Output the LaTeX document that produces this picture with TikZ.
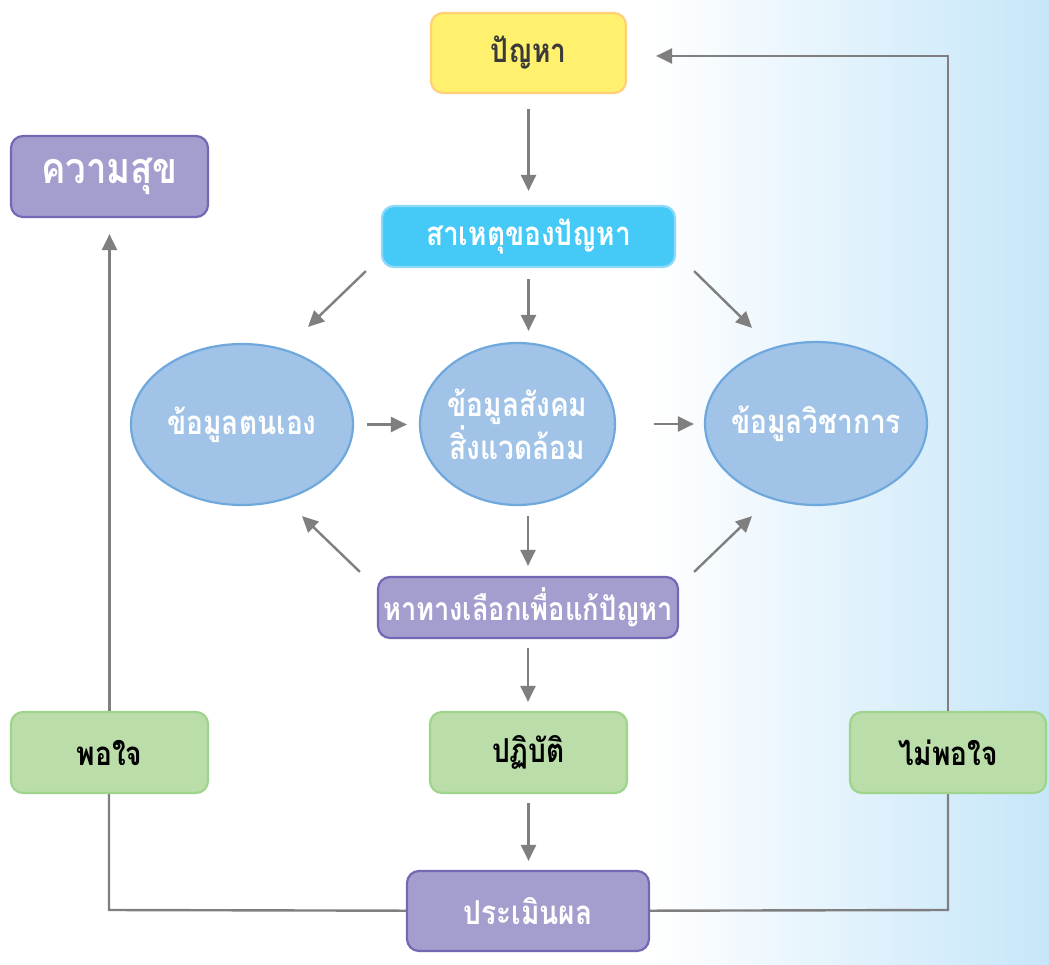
\documentclass[tikz,border=0pt]{standalone}
\usepackage{fontspec}
\newfontfamily\thaifont[Script=Thai,FakeStretch=0.85]{Loma}
\usetikzlibrary{arrows.meta,shapes.geometric,calc}
\definecolor{arrgray}{RGB}{127,127,127}
\definecolor{bgblue}{RGB}{198,230,249}
\definecolor{yfill}{RGB}{255,241,110}
\definecolor{ydraw}{RGB}{255,208,120}
\definecolor{cfill}{RGB}{69,201,246}
\definecolor{cdraw}{RGB}{141,217,247}
\definecolor{pfill}{RGB}{164,158,207}
\definecolor{pdraw}{RGB}{115,104,180}
\definecolor{efill}{RGB}{160,195,231}
\definecolor{edraw}{RGB}{111,168,220}
\definecolor{gfill}{RGB}{187,221,170}
\definecolor{gdraw}{RGB}{158,212,140}
\definecolor{dtext}{RGB}{58,58,58}
\begin{document}
\begin{tikzpicture}[x=1pt,y=-1pt,
  box/.style={rectangle, rounded corners=12pt, line width=2.2pt, inner xsep=-30pt, inner ysep=0pt, align=center, font=\thaifont\bfseries\fontsize{33}{38}\selectfont},
  yellowbox/.style={box, fill=yfill, draw=ydraw, text=dtext},
  cyanbox/.style={box, fill=cfill, draw=cdraw, text=white},
  purplebox/.style={box, fill=pfill, draw=pdraw, text=white},
  greenbox/.style={box, fill=gfill, draw=gdraw, text=black},
  ell/.style={ellipse, fill=efill, draw=edraw, line width=2.2pt, inner xsep=-50pt, inner ysep=-20pt, align=center, text=white, font=\thaifont\bfseries\fontsize{33}{42}\selectfont},
  arr/.style={draw=arrgray, line width=2.4pt, -{Triangle[length=16pt,width=15pt]}},
  ln/.style={draw=arrgray, line width=2.4pt}
]
\useasboundingbox (0,0) rectangle (1049,965);
\fill[white] (0,0) rectangle (1049,965);
\shade[left color=white, right color=bgblue] (650,0) rectangle (1049,965);

\coordinate (vl) at (109,910);
\coordinate (vr) at (948,910);

\node[yellowbox, minimum width=195pt, minimum height=80pt] (p) at (528.5,53) {ปัญหา};
\node[cyanbox, minimum width=293pt, minimum height=61pt] (c) at (528.5,236.5) {สาเหตุของปัญหา};
\node[purplebox, minimum width=197pt, minimum height=81pt, font=\thaifont\bfseries\fontsize{43}{48}\selectfont] (h) at (109.5,176.5) {ความสุข};
\node[ell, minimum width=222pt, minimum height=161pt] (e1) at (242,424.5) {ข้อมูลตนเอง};
\node[ell, minimum width=195pt, minimum height=162pt] (e2) at (517.5,424) {ข้อมูลสังคม\\สิ่งแวดล้อม};
\node[ell, minimum width=222pt, minimum height=163pt] (e3) at (816,423.5) {ข้อมูลวิชาการ};
\node[purplebox, minimum width=300pt, minimum height=61pt, font=\thaifont\bfseries\fontsize{32}{38}\selectfont] (a) at (528,607.5) {หาทางเลือกเพื่อแก้ปัญหา};
\node[greenbox, minimum width=197pt, minimum height=81pt] (d) at (528.5,752.5) {ปฏิบัติ};

% loop lines (drawn before the boxes they pass under)
\draw[ln] (528,911) -- (vl) -- (109,752);
\draw[ln] (528,911) -- (vr) -- (948,752);

\node[greenbox, minimum width=197pt, minimum height=81pt] (s) at (109.5,752.5) {พอใจ};
\node[greenbox, minimum width=196pt, minimum height=81pt] (n) at (948,752.5) {ไม่พอใจ};
\node[purplebox, minimum width=242pt, minimum height=80pt] (v) at (528,911) {ประเมินผล};

% arrows
\draw[arr, shorten <=15pt, shorten >=14pt] (p.south) -- (p.south |- c.north);
\draw[arr] ([shift={(-15,3)}]c.south west) -- ([shift={(66,-16)}]e1.north);
\draw[arr, shorten <=11pt, shorten >=11pt] (c.south) -- (c.south |- e2.north);
\draw[arr] ([shift={(18,3)}]c.south east) -- ([shift={(-64,-13)}]e3.north);
\draw[arr, shorten <=13pt, shorten >=12pt] (e1.east) -- (e1.east -| e2.west);
\draw[arr, shorten <=38pt, shorten >=10pt] (e2.east) -- (e2.east -| e3.west);
\draw[arr] ([shift={(-17,-4)}]a.north west) -- ([shift={(60,10)}]e1.south);
\draw[arr, shorten <=10pt, shorten >=10pt] (a.north |- e2.south) -- (a.north);
\draw[arr] ([shift={(15,-4)}]a.north east) -- ([shift={(-64,10)}]e3.south);
\draw[arr, shorten <=9pt, shorten >=9pt] (a.south) -- (a.south |- d.north);
\draw[arr, shorten <=9pt, shorten >=9pt] (d.south) -- (d.south |- v.north);
\draw[arr, shorten >=16pt] (s.north) -- (s.north |- h.south);
\draw[arr] (n.north) |- ([shift={(29,3)}]p.east);
\end{tikzpicture}
\end{document}
